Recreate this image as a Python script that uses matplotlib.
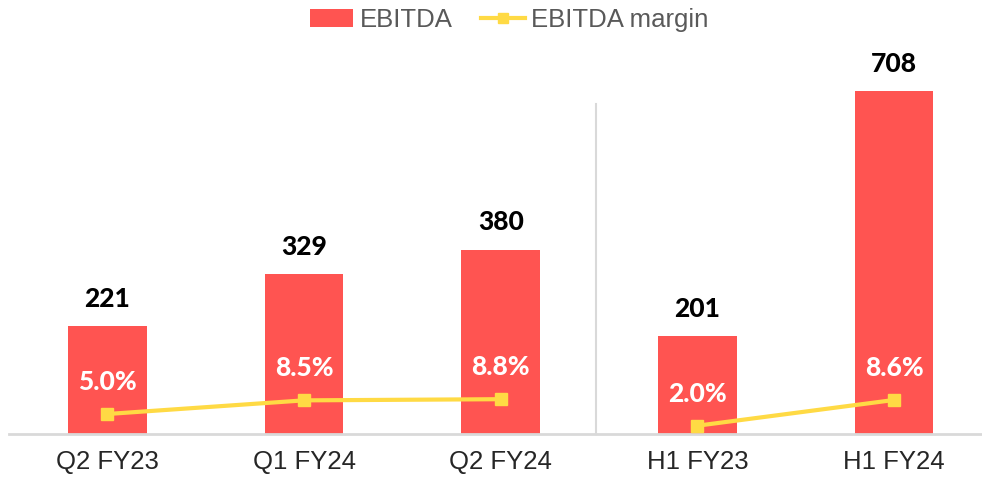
import matplotlib
matplotlib.use("Agg")
import matplotlib.pyplot as plt
from matplotlib.patches import Patch
from matplotlib.lines import Line2D
import numpy as np

categories = ["Q2 FY23", "Q1 FY24", "Q2 FY24", "H1 FY23", "H1 FY24"]
ebitda = [221, 329, 380, 201, 708]
margin = [5.0, 8.5, 8.8, 2.0, 8.6]
line_groups = [[0, 1, 2], [3, 4]]

BAR_C = "#FF5451"
LINE_C = "#FFDA44"
GRID_C = "#D9D9D9"
TXT_C = "#595959"

W, H = 982, 479
fig = plt.figure(figsize=(W / 100, H / 100), dpi=100)
left, right = 9 / W, 1.0
bottom, top = (H - 433.5) / H, (H - 60) / H
ax = fig.add_axes([left, bottom, right - left, top - bottom])
ax2 = ax.twinx()

x = np.arange(len(categories))
ax.bar(x, ebitda, width=0.4, color=BAR_C, zorder=2)
ax.set_xlim(-0.5, 4.447)
ax.set_ylim(0, 771.4)
ax2.set_ylim(0, 95.8)

for grp in line_groups:
    ax2.plot(x[grp], [margin[i] for i in grp], color=LINE_C, lw=3,
             marker="s", ms=8.5, zorder=3)

num_font = dict(family=["Lato", "DejaVu Sans"], weight="black", size=19)
for xi, v in zip(x, ebitda):
    ax.annotate(f"{v}", (xi, v), xytext=(0, 19.5), textcoords="offset points",
                ha="center", va="center", color="black", **num_font)
for xi, m in zip(x, margin):
    ax2.annotate(f"{m:.1f}%", (xi, m), xytext=(0, 23), textcoords="offset points",
                 ha="center", va="center", color="white", **num_font)

# divider between quarterly and half-year groups
ax.plot([2.485, 2.485], [0, (433.5 - 104) / 373.5 * 771.4], color=GRID_C, lw=1.5,
        zorder=1, clip_on=False)

for a in (ax, ax2):
    for s in ("top", "right", "left"):
        a.spines[s].set_visible(False)
    a.set_yticks([])
ax2.spines["bottom"].set_visible(False)
ax.spines["bottom"].set_color(GRID_C)
ax.spines["bottom"].set_linewidth(2)
ax.set_xticks(x)
ax.set_xticklabels(categories, family=["Liberation Sans", "DejaVu Sans"],
                   fontsize=18.5, color="#262626")
ax.tick_params(axis="x", length=0, pad=12)

handles = [Patch(facecolor=BAR_C, edgecolor="none"),
           Line2D([0], [0], color=LINE_C, lw=3, marker="s", ms=7)]
fig.legend(handles, ["EBITDA", "EBITDA margin"], loc="center",
           bbox_to_anchor=(509 / W, 1 - 20 / H), ncol=2, frameon=False,
           prop=dict(family=["Liberation Sans", "DejaVu Sans"], size=18.5),
           labelcolor=TXT_C, handlelength=1.7, handletextpad=0.25,
           columnspacing=1.1)

fig.savefig("out.png", dpi=100)
